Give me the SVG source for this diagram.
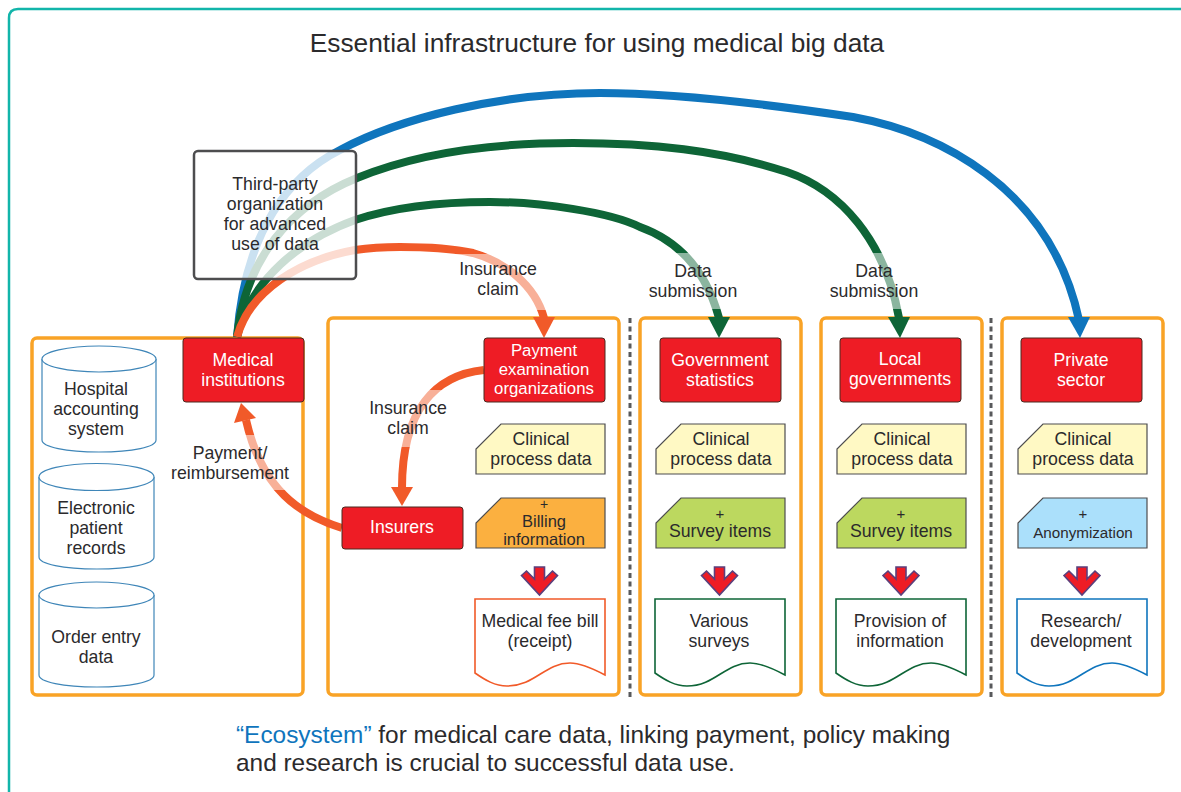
<svg xmlns="http://www.w3.org/2000/svg" xmlns:xlink="http://www.w3.org/1999/xlink" width="1181" height="792" viewBox="0 0 1181 792">
<style>
text{font-family:"Liberation Sans",Arial,sans-serif;font-size:17.7px;fill:#2b2a2c;text-anchor:middle}
.t{font-size:26.300px}
.f{font-size:24.400px}
.w{fill:#fff}
.s{font-size:16.800px}
.panel{fill:#fff;stroke:#f9a326;stroke-width:3.5}
.red{fill:#ee1c25;stroke:#4a2a20;stroke-width:1}
.cyl{fill:#fff;stroke:#3f86b8;stroke-width:1.2}
.tag{stroke:#4d4d4f;stroke-width:1.2}
.doc{fill:#fff;stroke-width:1.6}
.arc{fill:none;stroke-width:8}
.g{stroke:#0e6537}.b{stroke:#0f75bd}.o{stroke:#f15a29}
.sep{fill:none;stroke:#58595b;stroke-width:3;stroke-dasharray:5 3.5}
.veil{fill:#fff;fill-opacity:.52}
.plus{font-size:15px}
</style>
<defs>
<path id="down" d="M-5 0H5V12L13 4L18 8.500L0 28L-18 8.500L-13 4L-5 12Z" fill="#ee1c25" stroke="#5b3f7c" stroke-width="1.6"/>
</defs>
<rect width="1181" height="792" fill="#fff"/>
<path d="M1181 9H18Q9 9 9 18V792" fill="none" stroke="#12b5aa" stroke-width="2.5"/>
<text class="t" x="597" y="52">Essential infrastructure for using medical big data</text>

<g id="panels">
<rect class="panel" x="32" y="338" width="271" height="357" rx="5"/>
<rect class="panel" x="328" y="318" width="291" height="377" rx="5"/>
<rect class="panel" x="640" y="318" width="161" height="377" rx="5"/>
<rect class="panel" x="821" y="318" width="161" height="377" rx="5"/>
<rect class="panel" x="1002" y="318" width="161" height="377" rx="5"/>
<path class="sep" d="M630 318V698"/>
<path class="sep" d="M991 318V698"/>
</g>

<g id="connectors">
<path class="arc b" d="M237 337C245 230 290 175 340 150C400 118 500 93 600 93C680 93 780 106 853 117C935 132 1050 185 1079 320"/>
<path class="arc g" d="M237 337C245 260 290 205 357 178C420 152 500 143 573 143C650 143 720 150 787 172C840 190 885 240 899 318"/>
<path class="arc g" d="M237 337C250 280 300 240 355 220C400 205 450 202 490 202C540 202 610 212 640 227C690 245 710 285 719 318"/>
<path class="arc o" d="M237 337C250 290 300 260 355 250C375 247 385 247 400 247C430 247 455 249 473 253C505 262 535 285 544 318"/>
<path fill="#0f75bd" d="M1068 317H1090L1080 338Z"/>
<path fill="#0e6537" d="M888 317H910L900 338Z"/>
<path fill="#0e6537" d="M708 317H730L719 338Z"/>
<path fill="#f15a29" d="M533 317H555L544 338Z"/>
<path class="arc o" d="M484 370C435 375 402 410 402 488"/>
<path fill="#f15a29" d="M391 487H413L402 506Z"/>
<path class="arc o" d="M342 528C300 515 262 490 246 420"/>
<path fill="#f15a29" d="M234 423L256 418L241 403Z"/>
<rect class="veil" x="452" y="254" width="100" height="56"/>
<rect class="veil" x="650" y="253" width="90" height="56"/>
<rect class="veil" x="832" y="253" width="88" height="56"/>
<rect class="veil" x="370" y="390" width="80" height="57"/>
<rect class="veil" x="175" y="435" width="118" height="55"/>
</g>

<g id="third-party">
<rect x="194" y="151" width="162" height="128" rx="4" fill="#fff" fill-opacity=".78" stroke="#4d4d4f" stroke-width="2.5"/>
<text x="275" y="190">Third-party</text><text x="275" y="210">organization</text><text x="275" y="230">for advanced</text><text x="275" y="250">use of data</text>
</g>

<g id="labels">
<text x="498" y="275">Insurance</text><text x="498" y="295">claim</text>
<text x="693" y="277">Data</text><text x="693" y="297">submission</text>
<text x="874" y="277">Data</text><text x="874" y="297">submission</text>
<text x="408" y="414">Insurance</text><text x="408" y="434">claim</text>
<text x="230" y="459">Payment/</text><text x="230" y="479">reimbursement</text>
</g>

<g id="db-hospital">
<path class="cyl" d="M42 359V440C42 447 66 452 99 452C133 452 156 447 156 440V359"/>
<ellipse class="cyl" cx="99" cy="359" rx="57" ry="13"/>
<text x="96" y="395">Hospital</text><text x="96" y="415">accounting</text><text x="96" y="435">system</text>
</g>
<g id="db-electronic">
<path class="cyl" d="M39 477V557C39 564 63 569 97 569C130 569 154 564 154 557V477"/>
<ellipse class="cyl" cx="96.500" cy="477" rx="57.500" ry="13.500"/>
<text x="96" y="514">Electronic</text><text x="96" y="534">patient</text><text x="96" y="554">records</text>
</g>
<g id="db-order">
<path class="cyl" d="M39 595V675C39 682 63 687 97 687C130 687 154 682 154 675V595"/>
<ellipse class="cyl" cx="96.500" cy="595" rx="57.500" ry="13"/>
<text x="96" y="643">Order entry</text><text x="96" y="663">data</text>
</g>

<g id="medical"><rect class="red" x="183" y="338" width="121" height="64" rx="3"/><text class="w" x="243" y="366">Medical</text><text class="w" x="243" y="386">institutions</text></g>
<g id="payment"><rect class="red" x="484" y="338" width="121" height="64" rx="3"/><text class="w s" x="544" y="356">Payment</text><text class="w s" x="544" y="375">examination</text><text class="w s" x="544" y="394">organizations</text></g>
<g id="insurers"><rect class="red" x="342" y="507" width="121" height="42" rx="3"/><text class="w" x="402" y="533">Insurers</text></g>
<g id="gov"><rect class="red" x="660" y="338" width="121" height="64" rx="3"/><text class="w" x="720" y="366">Government</text><text class="w" x="720" y="386">statistics</text></g>
<g id="local"><rect class="red" x="840" y="338" width="121" height="64" rx="3"/><text class="w" x="900" y="365">Local</text><text class="w" x="900" y="385">governments</text></g>
<g id="private"><rect class="red" x="1021" y="338" width="121" height="64" rx="3"/><text class="w" x="1081" y="366">Private</text><text class="w" x="1081" y="386">sector</text></g>

<g id="clin1"><path class="tag" fill="#fff9c4" d="M501 424H605V474H476V449Z"/><text x="541" y="445">Clinical</text><text x="541" y="465">process data</text></g>
<g id="clin2"><path class="tag" fill="#fff9c4" d="M681 424H785V474H656V449Z"/><text x="721" y="445">Clinical</text><text x="721" y="465">process data</text></g>
<g id="clin3"><path class="tag" fill="#fff9c4" d="M862 424H966V474H837V449Z"/><text x="902" y="445">Clinical</text><text x="902" y="465">process data</text></g>
<g id="clin4"><path class="tag" fill="#fff9c4" d="M1043 424H1147V474H1018V449Z"/><text x="1083" y="445">Clinical</text><text x="1083" y="465">process data</text></g>

<g id="billing"><path class="tag" fill="#fbb040" d="M501 498H605V548H476V523Z"/><text x="544" y="508.500" style="font-size:14px">+</text><text x="544" y="526.500" style="font-size:16.500px">Billing</text><text x="544" y="545" style="font-size:16.500px">information</text></g>
<g id="survey1"><path class="tag" fill="#bcd85f" d="M681 498H785V548H656V523Z"/><text class="plus" x="720" y="519">+</text><text x="720" y="537">Survey items</text></g>
<g id="survey2"><path class="tag" fill="#bcd85f" d="M862 498H966V548H837V523Z"/><text class="plus" x="901" y="519">+</text><text x="901" y="537">Survey items</text></g>
<g id="anon"><path class="tag" fill="#abe0fb" d="M1043 498H1147V548H1018V523Z"/><text class="plus" x="1083" y="519">+</text><text x="1083" y="538" style="font-size:15.200px">Anonymization</text></g>

<use xlink:href="#down" transform="translate(539.500 567)"/>
<use xlink:href="#down" transform="translate(719.500 567)"/>
<use xlink:href="#down" transform="translate(901 567)"/>
<use xlink:href="#down" transform="translate(1082 567)"/>

<g id="bill"><path class="doc" stroke="#f15a29" d="M475 599h130v76c-15 -8 -25 -12 -35 -12c-25 0 -35 23 -63 23c-12 0 -22 -6 -32 -13z"/><text x="540" y="627">Medical fee bill</text><text x="540" y="647">(receipt)</text></g>
<g id="surveys"><path class="doc" stroke="#0e6537" d="M655 599h130v76c-15 -8 -25 -12 -35 -12c-25 0 -35 23 -63 23c-12 0 -22 -6 -32 -13z"/><text x="719" y="627">Various</text><text x="719" y="647">surveys</text></g>
<g id="info"><path class="doc" stroke="#0e6537" d="M836 599h130v76c-15 -8 -25 -12 -35 -12c-25 0 -35 23 -63 23c-12 0 -22 -6 -32 -13z"/><text x="900" y="627">Provision of</text><text x="900" y="647">information</text></g>
<g id="research"><path class="doc" stroke="#0f75bd" d="M1017 599h130v76c-15 -8 -25 -12 -35 -12c-25 0 -35 23 -63 23c-12 0 -22 -6 -32 -13z"/><text x="1081" y="627">Research/</text><text x="1081" y="647">development</text></g>

<g id="footer">
<text class="f" x="236" y="743" style="text-anchor:start"><tspan style="fill:#0f75bd">“Ecosystem”</tspan> for medical care data, linking payment, policy making</text>
<text class="f" x="236" y="771" style="text-anchor:start">and research is crucial to successful data use.</text>
</g>
</svg>
